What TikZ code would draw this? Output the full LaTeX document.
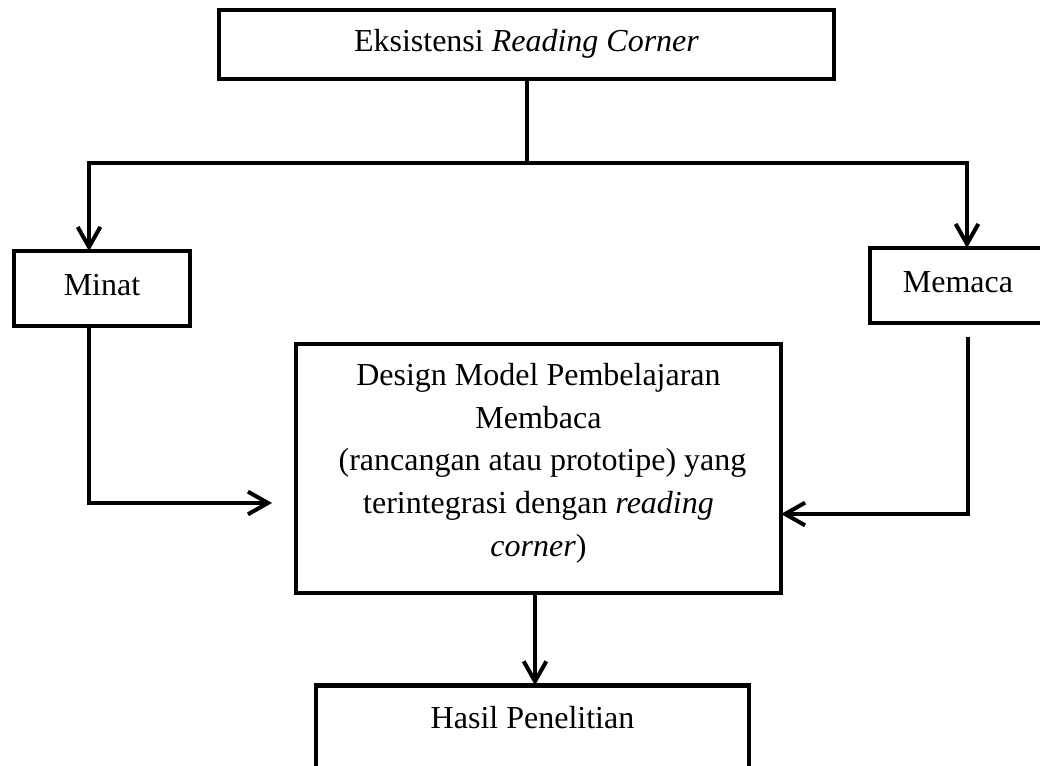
\documentclass[tikz,border=0pt]{standalone}
\usepackage{fontspec}
\setmainfont{Liberation Serif}
\usetikzlibrary{arrows.meta}
\begin{document}
\begin{tikzpicture}[x=0.75pt,y=-0.75pt,
  box/.style={draw=black,line width=3.4pt,rectangle,inner sep=0pt,outer sep=0pt,
    align=center,font=\fontsize{24}{32}\selectfont,text height=16pt,text depth=5pt},
  txt/.style={inner sep=0pt,align=center,font=\fontsize{24}{32}\selectfont},
  arr/.style={line width=3pt,-{Straight Barb[length=15pt,width=17pt,line width=3pt]}},
  conn/.style={line width=3pt}]
\useasboundingbox (0,0) rectangle (1040,765);
\clip (0,0) rectangle (1040,765);
\fill[white] (0,0) rectangle (1040,765);
% boxes
\node[box,minimum width=461.25pt,minimum height=51.75pt] (top) at (526.5,44.5) {Eksistensi \textit{Reading Corner}};
\node[box,minimum width=132pt,minimum height=56.25pt] (minat) at (102,288.5) {Minat};
\node[box,minimum width=132pt,minimum height=56.25pt] (memaca) at (958,285.5) {Memaca};
\node[box,minimum width=363.75pt,minimum height=186.75pt] (design) at (538.5,468.5) {};
\node[txt] (designtext) at (538.5,463) {Design Model Pembelajaran\\ Membaca\\ \hspace*{6pt}(rancangan atau prototipe) yang\\ terintegrasi dengan \textit{reading}\\ \textit{corner})};
\node[box,minimum width=324.75pt,minimum height=82pt] (hasil) at (532.5,740) {};
\node[txt,anchor=base] (hasiltext) at (532.5,728) {Hasil Penelitian};
% connectors
\coordinate (split) at (527,163);
\coordinate (lt) at (89,163);
\coordinate (rt) at (967,163);
\draw[conn] (top.south -| split) -- (split);
\draw[arr] (split) -- (lt) -- (lt |- minat.north);
\draw[arr] (split) -- (rt) -- (rt |- memaca.north);
\coordinate (ml) at (89,503);
\coordinate (mlend) at (272,503);
\draw[arr] (ml |- minat.south) -- (ml) -- (mlend);
\coordinate (rstart) at (968,337);
\coordinate (rbend) at (968,514);
\draw[arr] (rstart) -- (rbend) -- (rbend -| design.east);
\coordinate (dd) at (535,600);
\draw[arr] (dd |- design.south) -- (dd |- hasil.north);
\end{tikzpicture}
\end{document}
